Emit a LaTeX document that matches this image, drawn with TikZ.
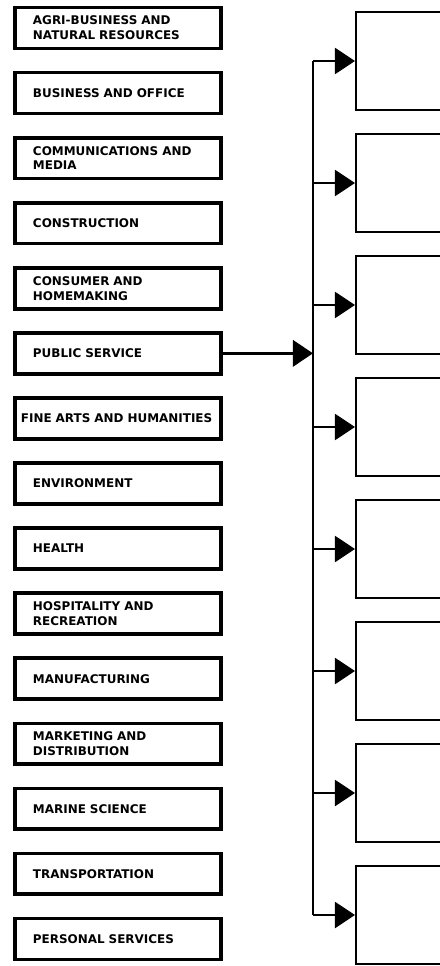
\documentclass[tikz,border=0pt]{standalone}
\usepackage{fontspec}
\setsansfont{DejaVu Sans}
\usetikzlibrary{arrows.meta}

\begin{document}
\begin{tikzpicture}[x=0.025cm, y=-0.025cm, >={Triangle[length=0.5cm, width=0.65cm]},
    cluster/.style={draw, line width=2.6pt, minimum width=5.15cm, minimum height=1.02cm,
        text width=4.25cm, inner xsep=0.45cm, align=left,
        font=\sffamily\bfseries\fontsize{8.5}{10.5}\selectfont},
    slot/.style={draw, line width=1.4pt, minimum width=4cm, minimum height=2.45cm, anchor=north west}]
    % Page frame
    \useasboundingbox (0,0) rectangle (440,966);
    \clip (0,0) rectangle (440,966);

    % Left column of clusters
    \foreach \txt [count=\i from 0] in {
        {AGRI-BUSINESS AND\\NATURAL RESOURCES},
        {BUSINESS AND OFFICE},
        {COMMUNICATIONS AND\\MEDIA},
        {CONSTRUCTION},
        {CONSUMER AND\\HOMEMAKING},
        {PUBLIC SERVICE},
        {\hspace*{-0.3cm}\mbox{FINE ARTS AND HUMANITIES}},
        {ENVIRONMENT},
        {HEALTH},
        {HOSPITALITY AND\\RECREATION},
        {MANUFACTURING},
        {MARKETING AND\\DISTRIBUTION},
        {MARINE SCIENCE},
        {TRANSPORTATION},
        {PERSONAL SERVICES}}
        \node[cluster] (c\i) at (118, {28+65.07*\i}) {\txt};

    % Right column of empty boxes
    \foreach \j in {1,...,8}
        \node[slot] (r\j) at (355, {11+122*(\j-1)}) {};

    % Trunk line
    \coordinate (ttop) at (313, 61);
    \coordinate (tbot) at (ttop |- r8.west);
    \draw[line width=1.4pt] (ttop |- r1.west) -- (tbot);

    % Chosen cluster into the trunk
    \draw[->, line width=2.4pt] (c5.east) -- (c5.east -| ttop);

    % Branches
    \foreach \j in {1,...,8}
        \draw[->, line width=1.4pt] (r\j.west -| ttop) -- (r\j.west);

\end{tikzpicture}
\end{document}
